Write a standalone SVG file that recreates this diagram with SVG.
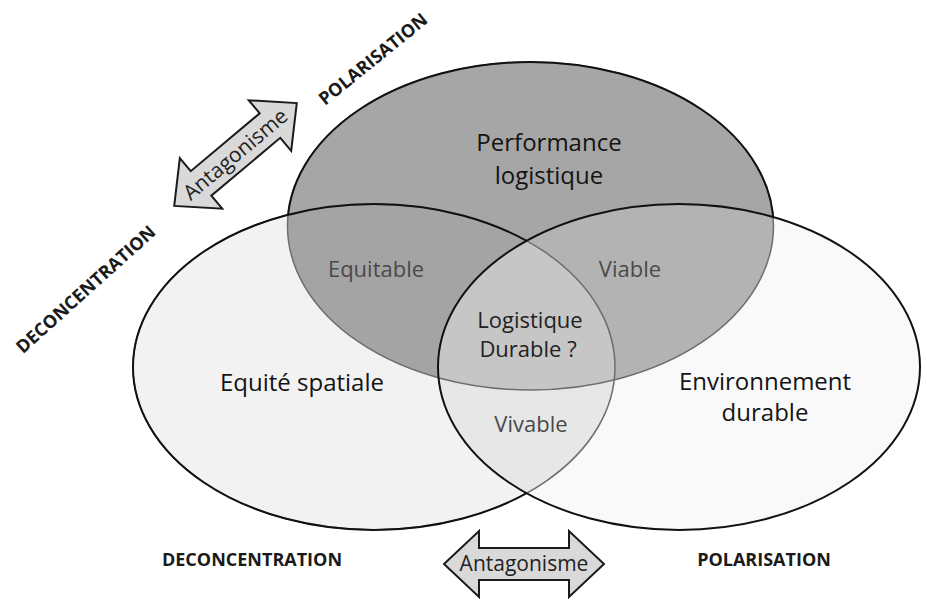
<svg xmlns="http://www.w3.org/2000/svg" width="927" height="601" viewBox="0 0 927 601">
<style>
  .lbl{font-family:"Open Sans","Liberation Sans",sans-serif;text-anchor:middle;}
  .main{font-size:24px;fill:#141414;}
  .sub{font-size:22px;fill:#4a4a4a;}
  .core{font-size:22px;fill:#222;}
  .axis{font-size:18px;font-weight:bold;fill:#1a1a1a;}
  .ant{font-size:21px;fill:#222;}
  .arrow{fill:#d9d9d9;stroke:#1a1a1a;stroke-width:2;stroke-linejoin:miter;}
  .edgeB{fill:none;stroke:#111;stroke-width:2;}
  .edgeG{fill:none;stroke:#6e6e6e;stroke-width:1.5;}
</style>
<defs>
  <ellipse id="eT" cx="530.5" cy="226" rx="243" ry="164"/>
  <ellipse id="eL" cx="374" cy="367" rx="241" ry="163"/>
  <ellipse id="eR" cx="679" cy="367" rx="241" ry="163"/>
  <clipPath id="cT"><use href="#eT"/></clipPath>
  <clipPath id="cL"><use href="#eL"/></clipPath>
  <clipPath id="cR"><use href="#eR"/></clipPath>
  <mask id="mNotLR" maskUnits="userSpaceOnUse" x="0" y="0" width="927" height="601">
    <rect x="0" y="0" width="927" height="601" fill="#fff"/>
    <use href="#eL" fill="#000"/>
    <use href="#eR" fill="#000"/>
  </mask>
  <mask id="mNotR" maskUnits="userSpaceOnUse" x="0" y="0" width="927" height="601">
    <rect x="0" y="0" width="927" height="601" fill="#fff"/>
    <use href="#eR" fill="#000"/>
  </mask>
  <path id="dblArrow" d="M-80,0 L-45,-33 L-45,-16 L45,-16 L45,-33 L80,0 L45,33 L45,16 L-45,16 L-45,33 Z"/>
</defs>
<rect x="0" y="0" width="927" height="601" fill="#fff"/>

<!-- region fills -->
<g id="fills">
  <use href="#eL" fill="#f2f2f2"/>
  <use href="#eR" fill="#f9f9f9"/>
  <use href="#eR" fill="#e7e7e7" clip-path="url(#cL)"/>
  <use href="#eT" fill="#a6a6a6"/>
  <use href="#eL" fill="#a4a4a4" clip-path="url(#cT)"/>
  <use href="#eR" fill="#b3b3b3" clip-path="url(#cT)"/>
  <g clip-path="url(#cL)"><use href="#eR" fill="#c6c6c6" clip-path="url(#cT)"/></g>
</g>

<!-- outlines -->
<g id="outlines">
  <use href="#eT" class="edgeG"/>
  <use href="#eT" class="edgeB" mask="url(#mNotLR)"/>
  <use href="#eL" class="edgeG"/>
  <use href="#eL" class="edgeB" mask="url(#mNotR)"/>
  <use href="#eR" class="edgeB"/>
</g>

<g id="performance">
  <text class="lbl main" x="549" y="151">Performance</text>
  <text class="lbl main" x="549" y="184">logistique</text>
</g>
<g id="equite">
  <text class="lbl main" x="302" y="391">Equité spatiale</text>
</g>
<g id="environnement">
  <text class="lbl main" x="765" y="390">Environnement</text>
  <text class="lbl main" x="765" y="421">durable</text>
</g>
<g id="equitable">
  <text class="lbl sub" x="376" y="277">Equitable</text>
</g>
<g id="viable">
  <text class="lbl sub" x="630" y="277">Viable</text>
</g>
<g id="vivable">
  <text class="lbl sub" x="531" y="432">Vivable</text>
</g>
<g id="logistique-durable">
  <text class="lbl core" x="530" y="328">Logistique</text>
  <text class="lbl core" x="528" y="357">Durable ?</text>
</g>

<g id="connectors">
  <g id="antagonisme-diag" transform="translate(235.5,154.5) rotate(-40)">
    <use href="#dblArrow" class="arrow"/>
    <text class="lbl ant" x="0" y="7">Antagonisme</text>
  </g>
  <g id="antagonisme-bottom" transform="translate(524,564)">
    <use href="#dblArrow" class="arrow"/>
    <text class="lbl ant" x="0" y="7">Antagonisme</text>
  </g>
</g>

<g id="axis-labels">
  <text class="lbl axis" transform="translate(90,294) rotate(-42)">DECONCENTRATION</text>
  <text class="lbl axis" transform="translate(377,64) rotate(-39)">POLARISATION</text>
  <text class="lbl axis" x="252" y="566">DECONCENTRATION</text>
  <text class="lbl axis" x="764" y="566">POLARISATION</text>
</g>
</svg>
